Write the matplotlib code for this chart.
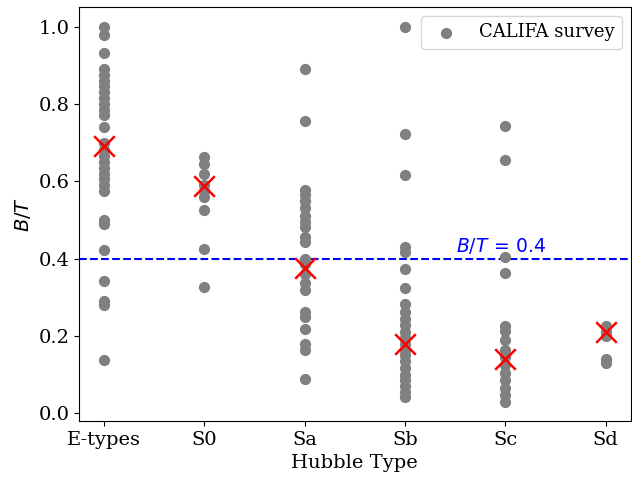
import numpy as np
import matplotlib
matplotlib.use('Agg')
import matplotlib.pyplot as plt

plt.rcParams['font.family'] = 'DejaVu Serif'
plt.rcParams['mathtext.fontset'] = 'dejavusans'

hubble_types = ['E-types', 'S0', 'Sa', 'Sb', 'Sc', 'Sd']

bt_etypes = [1.0, 0.977, 0.932, 0.891, 0.875, 0.86, 0.845, 0.83, 0.815, 0.80, 0.785,
             0.77, 0.74, 0.70, 0.68, 0.665, 0.65, 0.635, 0.62, 0.605, 0.59, 0.576,
             0.50, 0.49, 0.423, 0.342, 0.29, 0.28, 0.139]
bt_s0 = [0.662, 0.645, 0.619, 0.59, 0.575, 0.559, 0.525, 0.426, 0.326]
bt_sa = [0.89, 0.757, 0.578, 0.565, 0.55, 0.53, 0.51, 0.494, 0.481, 0.456, 0.443,
         0.40, 0.385, 0.36, 0.336, 0.318, 0.262, 0.249, 0.219, 0.18, 0.163, 0.09]
bt_sb = [1.0, 0.723, 0.617, 0.43, 0.417, 0.374, 0.324, 0.283, 0.262, 0.245, 0.228,
         0.21, 0.195, 0.18, 0.165, 0.15, 0.135, 0.118, 0.10, 0.085, 0.07, 0.055, 0.042]
bt_sc = [0.744, 0.656, 0.404, 0.364, 0.227, 0.214, 0.189, 0.163, 0.145, 0.125,
         0.105, 0.085, 0.065, 0.048, 0.03]
bt_sd = [0.225, 0.21, 0.2, 0.141, 0.13]

# typical B/T for each type (red crosses)
typical_bt = [0.692, 0.589, 0.375, 0.18, 0.141, 0.21]

bt_threshold = 0.4

samples = [bt_etypes, bt_s0, bt_sa, bt_sb, bt_sc, bt_sd]

fig, ax = plt.subplots(figsize=(6.32, 4.78), dpi=100)
fig.subplots_adjust(left=0.125, right=0.998, bottom=0.119, top=0.985)

for i, vals in enumerate(samples):
    ax.scatter(np.full(len(vals), i), vals, s=50, color='gray', zorder=2,
               label='CALIFA survey' if i == 0 else None)

ax.scatter(range(len(hubble_types)), typical_bt, marker='x', s=220, color='red',
           linewidths=1.8, zorder=3)

ax.axhline(bt_threshold, color='blue', ls='--', lw=1.5, zorder=1)
ax.text(3.51, bt_threshold + 0.006, r'$B/T\,=\,0.4$', color='blue', fontsize=13.5,
        va='bottom', ha='left')

ax.set_xticks(range(len(hubble_types)))
ax.set_xticklabels(hubble_types)
ax.tick_params(labelsize=14)
ax.set_xlabel('Hubble Type', fontsize=14)
ax.set_ylabel(r'$B/T$', fontsize=14)
ax.set_xlim(-0.25, 5.25)
ax.set_ylim(-0.02, 1.05)
ax.legend(loc='upper right', fontsize=13)

fig.savefig('out.png', dpi=100)
